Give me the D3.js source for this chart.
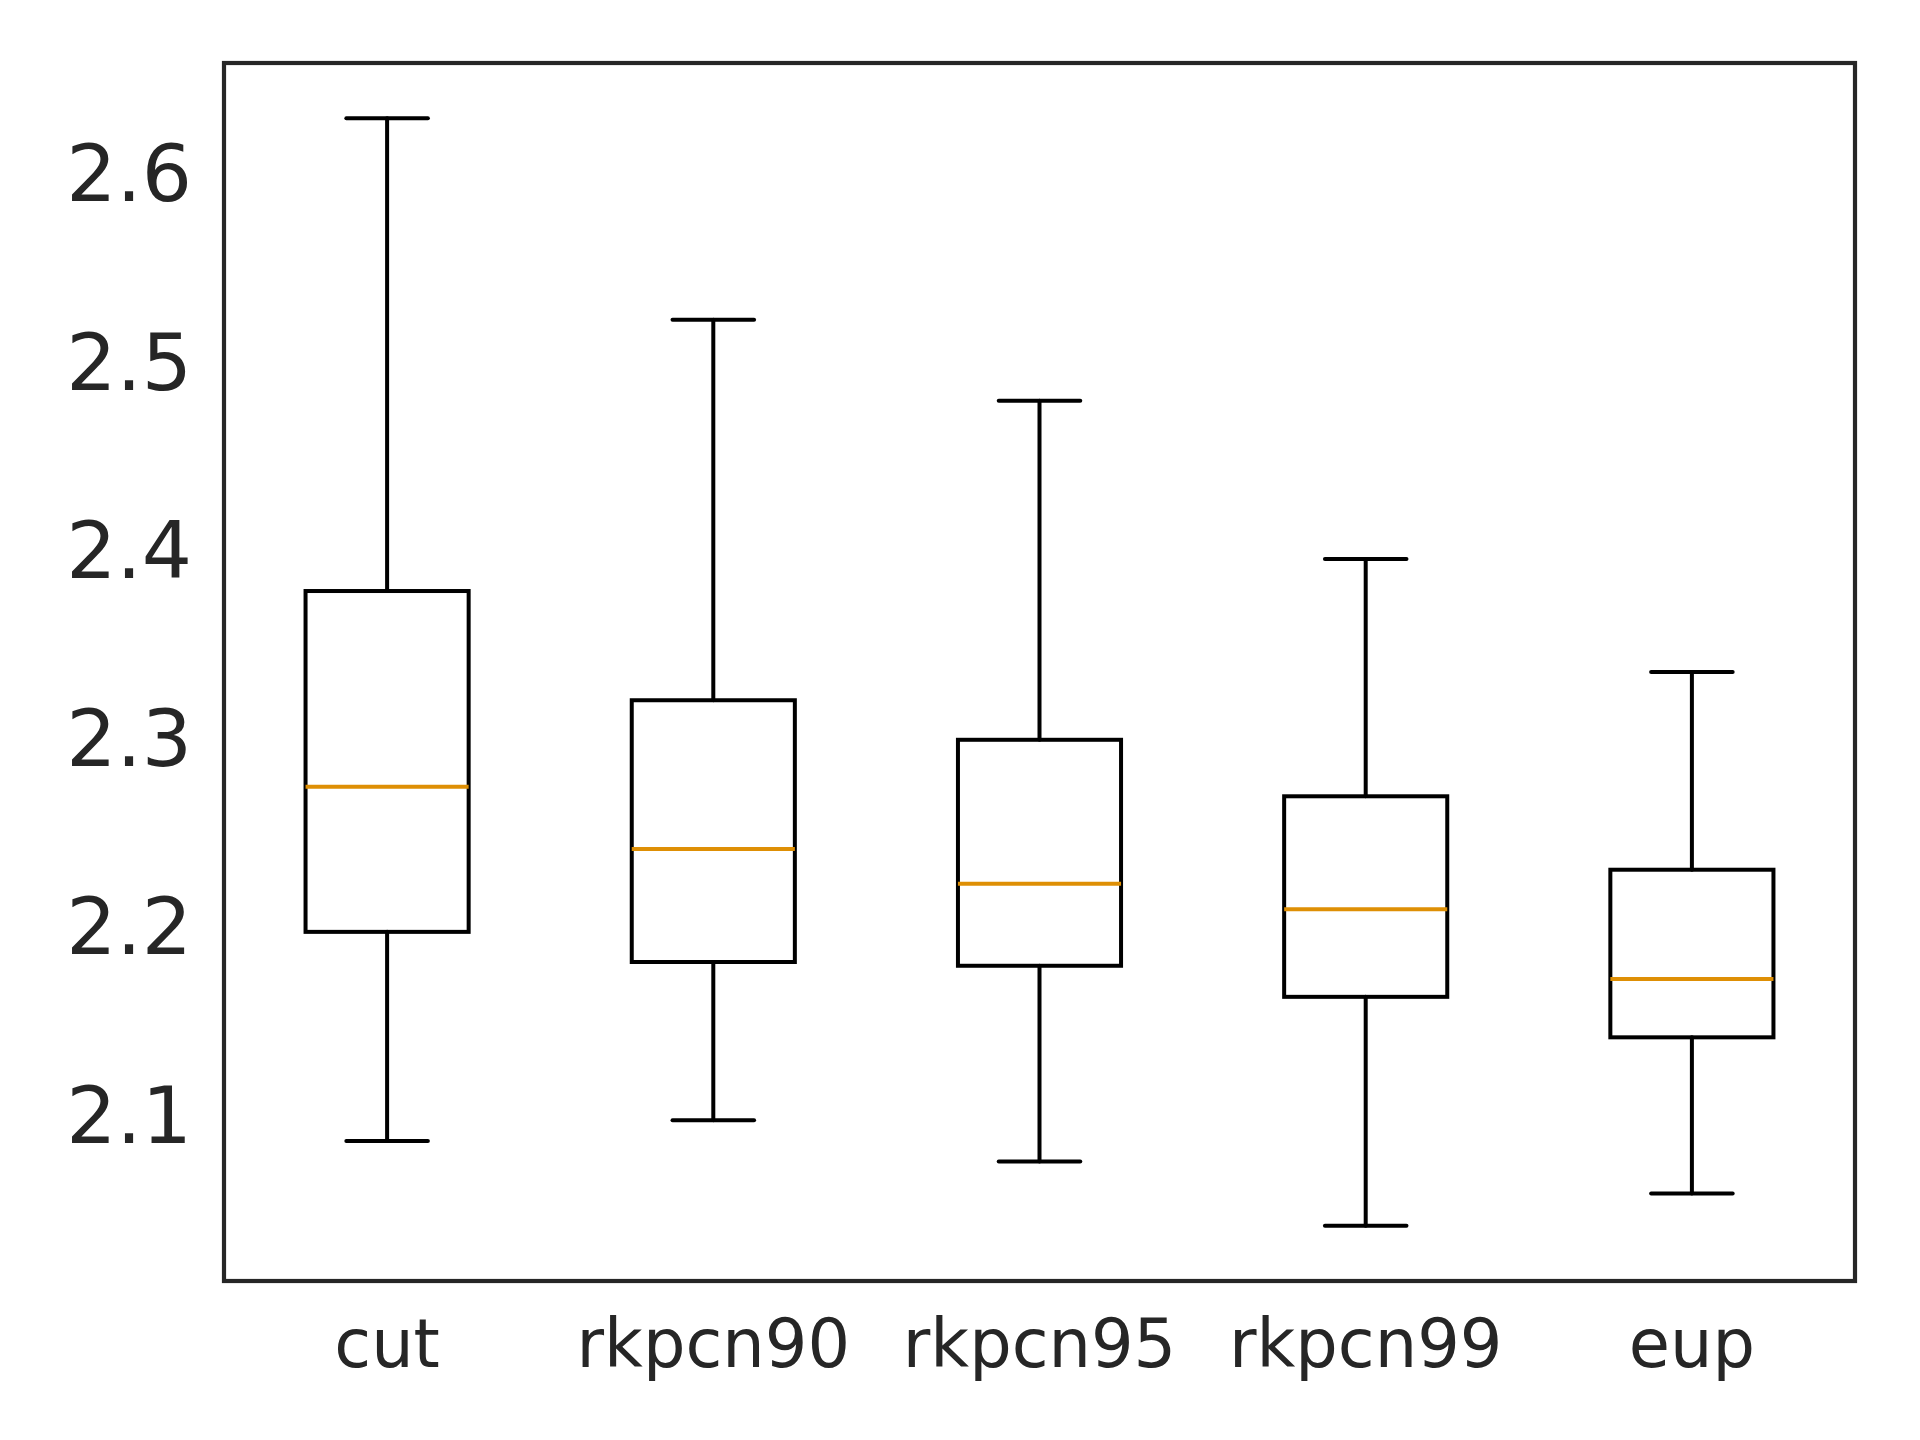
<!DOCTYPE html>
<html>
<head>
<meta charset="utf-8">
<script src="https://cdn.jsdelivr.net/npm/d3@7"></script>
<style>
body { margin: 0; background: #fff; }
text { font-family: "DejaVu Sans", sans-serif; fill: #262626; }
</style>
</head>
<body>
<div id="chart"></div>
<script>
var names = ['cut','rkpcn90','rkpcn95','rkpcn99','eup']
var whiskLo = [2.088, 2.099, 2.077, 2.043, 2.060]
var q1 = [2.199, 2.183, 2.181, 2.1645, 2.143]
var med = [2.276, 2.243, 2.2245, 2.211, 2.174]
var q3 = [2.380, 2.322, 2.301, 2.271, 2.232]
var whiskHi = [2.631, 2.524, 2.481, 2.397, 2.337]
var yTicks = [2.1, 2.2, 2.3, 2.4, 2.5, 2.6]

var W = 1920, H = 1440
// note: "top" is taken by window.top, so use other names
var axL = 224, axR = 1855, axT = 63, axB = 1281

var lo = d3.min(whiskLo), hi = d3.max(whiskHi)
var pad = (hi-lo)*0.05
var y = d3.scaleLinear().domain([lo-pad, hi+pad]).range([axB, axT])
var x = d3.scaleLinear().domain([0.5, names.length+0.5]).range([axL, axR])

var svg = d3.select('#chart').append('svg')
	.attr('width', W)
	.attr('height', H)

var g = svg.append('g')

names.forEach((n,i)=>{
	var p = i+1
	var b = g.append('g').attr('class','box')
	// whiskers
	b.append('line')
	 .attr('x1',x(p)).attr('x2',x(p))
	 .attr('y1',y(q1[i])).attr('y2',y(whiskLo[i]))
	b.append('line')
	 .attr('x1',x(p)).attr('x2',x(p))
	 .attr('y1',y(q3[i])).attr('y2',y(whiskHi[i]))
	// caps
	b.append('line')
	 .attr('x1',x(p-0.125)).attr('x2',x(p+0.125))
	 .attr('y1',y(whiskLo[i])).attr('y2',y(whiskLo[i]))
	b.append('line')
	 .attr('x1',x(p-0.125)).attr('x2',x(p+0.125))
	 .attr('y1',y(whiskHi[i])).attr('y2',y(whiskHi[i]))
	b.selectAll('line')
	 .attr('stroke','#000').attr('stroke-width',4).attr('stroke-linecap','round')
	// box
	b.append('rect')
	 .attr('x',x(p-0.25)).attr('width',x(p+0.25)-x(p-0.25))
	 .attr('y',y(q3[i])).attr('height',y(q1[i])-y(q3[i]))
	 .attr('fill','none').attr('stroke','#000').attr('stroke-width',4)
	// median
	b.append('line')
	 .attr('x1',x(p-0.25)).attr('x2',x(p+0.25))
	 .attr('y1',y(med[i])).attr('y2',y(med[i]))
	 .attr('stroke','#de8f05').attr('stroke-width',4)
})

// frame
svg.append('rect')
	.attr('x',axL).attr('y',axT)
	.attr('width',axR-axL).attr('height',axB-axT)
	.attr('fill','none').attr('stroke','#262626').attr('stroke-width',4.2)

// y tick labels
svg.append('g').selectAll('text').data(yTicks).enter().append('text')
	.attr('x',axL-32).attr('y',d=>y(d))
	.attr('dy','0.31em')
	.attr('text-anchor','end')
	.style('font-size','79px')
	.text(d=>d3.format('.1f')(d))

// x tick labels
svg.append('g').selectAll('text').data(names).enter().append('text')
	.attr('x',(d,i)=>x(i+1)).attr('y',1367)
	.attr('text-anchor','middle')
	.style('font-size','67px')
	.text(d=>d)
</script>
</body>
</html>
